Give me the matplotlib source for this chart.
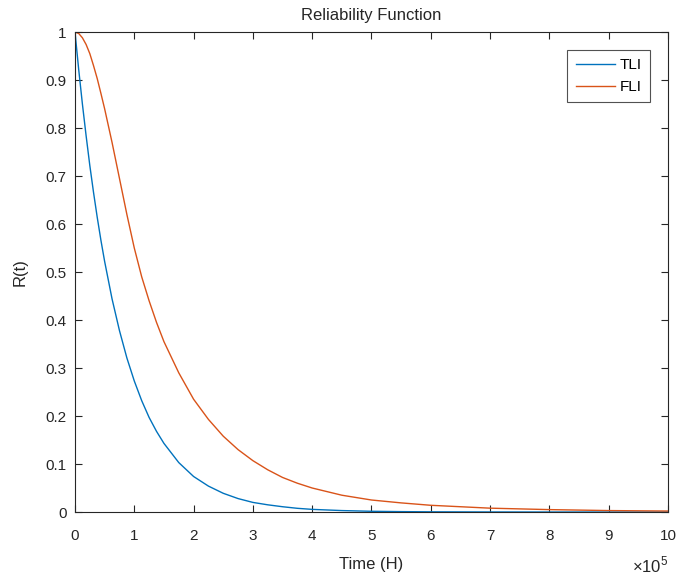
import numpy as np
import matplotlib.pyplot as plt
from matplotlib.ticker import FuncFormatter

plt.rcParams['font.family'] = ['Liberation Sans', 'DejaVu Sans']
plt.rcParams['mathtext.fontset'] = 'custom'
plt.rcParams['mathtext.rm'] = 'Liberation Sans'

# time in hours (x 1e5)
time_h = np.array([0, 0.0625, 0.125, 0.1875, 0.25, 0.3125, 0.375, 0.4375, 0.5, 0.625, 0.75,
                   0.875, 1.0, 1.125, 1.25, 1.375, 1.5, 1.75, 2.0, 2.25, 2.5, 2.75, 3.0,
                   3.25, 3.5, 3.75, 4.0, 4.5, 5.0, 5.5, 6.0, 7.0, 8.0, 9.0, 10.0]) * 1e5
tli = [1.0, 0.922, 0.85, 0.784, 0.722, 0.666, 0.614, 0.566, 0.522, 0.444, 0.378,
       0.321, 0.273, 0.232, 0.197, 0.168, 0.143, 0.103, 0.074, 0.054, 0.039, 0.028, 0.020,
       0.015, 0.011, 0.0077, 0.0055, 0.003, 0.0015, 0.0008, 0.0004,
       0.0001, 0.0, 0.0, 0.0]
fli = [1.0, 0.997, 0.988, 0.974, 0.955, 0.93, 0.903, 0.872, 0.84, 0.77, 0.695,
       0.62, 0.55, 0.49, 0.44, 0.395, 0.355, 0.29, 0.235, 0.193, 0.158, 0.13, 0.107,
       0.088, 0.072, 0.06, 0.05, 0.035, 0.025, 0.019, 0.014,
       0.008, 0.005, 0.003, 0.002]

fig = plt.figure(figsize=(6.78, 5.79), dpi=100)
ax = fig.add_axes([0.1106, 0.1157, 0.8746, 0.829])

ax.plot(time_h, tli, color='#0072BD', lw=1.0, label='TLI')
ax.plot(time_h, fli, color='#D95319', lw=1.0, label='FLI')

ax.set_xlim(0, 1e6)
ax.set_ylim(0, 1)
ax.set_xticks(np.arange(0, 11) * 1e5)
ax.set_yticks(np.arange(0, 11) / 10)
ax.xaxis.set_major_formatter(FuncFormatter(lambda v, p: f'{v / 1e5:g}'))
ax.yaxis.set_major_formatter(FuncFormatter(lambda v, p: f'{v:g}'))
ax.tick_params(direction='in', top=True, right=True, length=5, width=0.8,
               labelsize=11, colors='#262626', pad=6)
ax.tick_params(axis='x', pad=12)
for s in ax.spines.values():
    s.set_color('#262626')
    s.set_linewidth(0.8)

ax.set_title('Reliability Function', fontsize=12, color='#262626', pad=9)
ax.set_xlabel('Time (H)', fontsize=12, color='#262626', labelpad=10)
ax.set_ylabel('R(t)', fontsize=12, color='#262626', labelpad=13)
ax.text(1.0, -0.09, r'$\times10^5$', transform=ax.transAxes, ha='right', va='top',
        fontsize=12, color='#262626')

leg = ax.legend(loc='upper right', fontsize=11, frameon=True, fancybox=False,
                handlelength=2.55, handletextpad=0.3, borderpad=0.55, labelspacing=0.5,
                borderaxespad=1.18, edgecolor='#262626')
leg.get_frame().set_linewidth(0.8)

fig.savefig('out.png', dpi=100, facecolor='white')
